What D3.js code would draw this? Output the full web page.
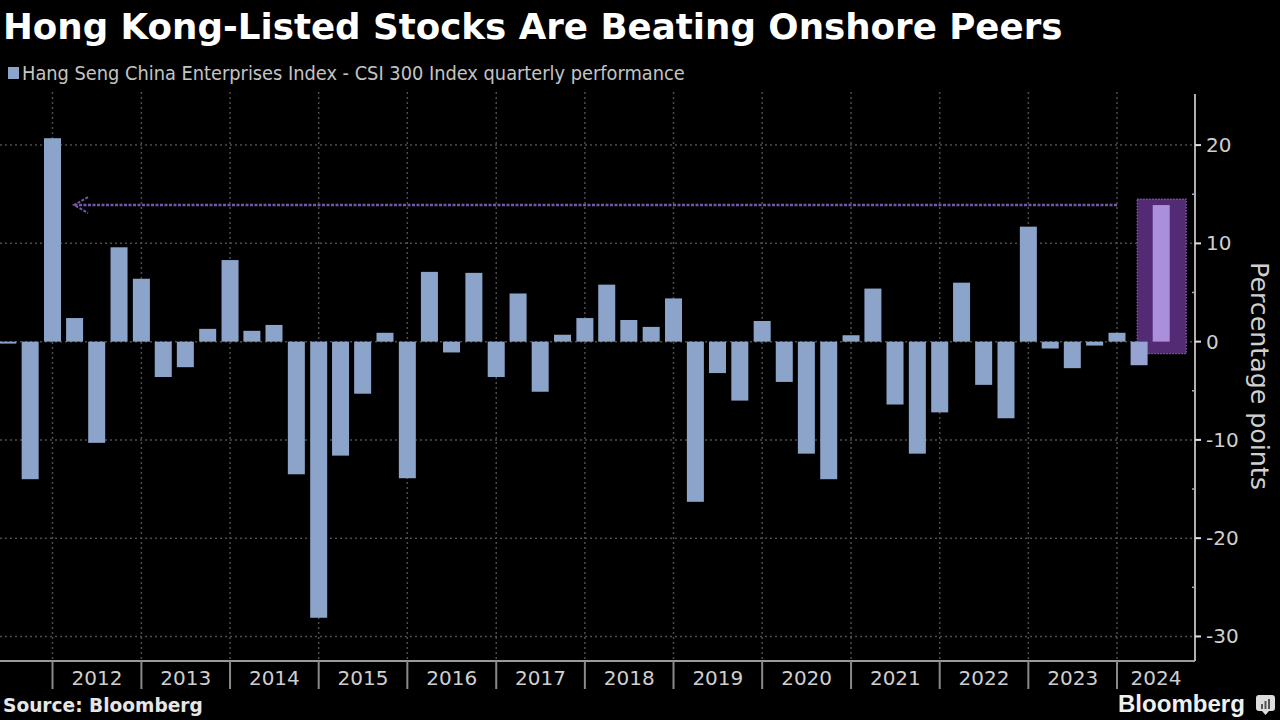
<!DOCTYPE html>
<html>
<head>
<meta charset="utf-8">
<script src="https://cdn.jsdelivr.net/npm/d3@7"></script>
<style>
  html, body { margin: 0; padding: 0; background: #000; }
  svg { display: block; }
</style>
</head>
<body>
<svg id="chart" width="1280" height="720"></svg>
<script>
// ---------- DATA ----------
const quarters = [
  "2011Q3","2011Q4",
  "2012Q1","2012Q2","2012Q3","2012Q4",
  "2013Q1","2013Q2","2013Q3","2013Q4",
  "2014Q1","2014Q2","2014Q3","2014Q4",
  "2015Q1","2015Q2","2015Q3","2015Q4",
  "2016Q1","2016Q2","2016Q3","2016Q4",
  "2017Q1","2017Q2","2017Q3","2017Q4",
  "2018Q1","2018Q2","2018Q3","2018Q4",
  "2019Q1","2019Q2","2019Q3","2019Q4",
  "2020Q1","2020Q2","2020Q3","2020Q4",
  "2021Q1","2021Q2","2021Q3","2021Q4",
  "2022Q1","2022Q2","2022Q3","2022Q4",
  "2023Q1","2023Q2","2023Q3","2023Q4",
  "2024Q1","2024Q2","2024Q3"
];
const spread = [
  -0.2, -14.0,
  20.7, 2.4, -10.3, 9.6,
  6.4, -3.6, -2.6, 1.3,
  8.3, 1.1, 1.7, -13.5,
  -28.1, -11.6, -5.3, 0.9,
  -13.9, 7.1, -1.1, 7.0,
  -3.6, 4.9, -5.1, 0.7,
  2.4, 5.8, 2.2, 1.5,
  4.4, -16.3, -3.2, -6.0,
  2.1, -4.1, -11.4, -14.0,
  0.65, 5.4, -6.4, -11.4,
  -7.2, 6.0, -4.4, -7.8,
  11.7, -0.7, -2.7, -0.4,
  0.9, -2.4, 13.9
];
const years = [2012,2013,2014,2015,2016,2017,2018,2019,2020,2021,2022,2023,2024];
const yTicks = [20, 10, 0, -10, -20, -30];
const yMinorTicks = [15, 5, -5, -15, -25];
const highlightQuarter = "2024Q3";
const arrowTargetQuarter = "2012Q1";

const titleText = "Hong Kong-Listed Stocks Are Beating Onshore Peers";
const legendText = "Hang Seng China Enterprises Index - CSI 300 Index quarterly performance";
const yTitleText = "Percentage points";
const sourceText = "Source: Bloomberg";
const brandText = "Bloomberg";

// ---------- SETUP ----------
const svg = d3.select("#chart");
const qDate = q => new Date(+q.slice(0,4), (+q.slice(5) - 1) * 3, 1);
const data = quarters.map((q, i) => ({ q, date: qDate(q), v: spread[i] }));

const plotLeft = 0, plotRight = 1195, plotTop = 94, plotBottom = 661;
const x = d3.scaleTime()
  .domain([new Date(2012,0,1), new Date(2024,0,1)])
  .range([52.5, 1117]);
const y = d3.scaleLinear().domain([-32.5, 25.2]).range([plotBottom, plotTop]);
const barW = 17;

const barColor = "#8ca4ca";
const hiBarColor = "#a98fdc";
const purple = "#7656a8";
const gridColor = "#4d4d4d";

function fitWidth(sel, target) {
  const w = sel.node().getComputedTextLength();
  const fs = parseFloat(sel.attr("font-size"));
  sel.attr("font-size", fs * target / w);
}

// ---------- TITLE / LEGEND ----------
const title = svg.append("text")
  .attr("x", 3).attr("y", 39)
  .attr("font-family", "DejaVu Sans, sans-serif")
  .attr("font-weight", "bold")
  .attr("font-size", 30)
  .attr("fill", "#fff")
  .text(titleText);
fitWidth(title, 1060);

svg.append("rect")
  .attr("x", 8).attr("y", 67).attr("width", 11).attr("height", 12)
  .attr("fill", barColor);
const leg = svg.append("text")
  .attr("font-family", "DejaVu Sans Condensed, DejaVu Sans, sans-serif")
  .attr("font-stretch", "condensed")
  .attr("font-size", 19)
  .attr("fill", "#c4c4c4")
  .text(legendText);
{
  const w = leg.node().getComputedTextLength();
  leg.attr("transform", `translate(22,80) scale(${663 / w},1)`);
}

// ---------- GRID ----------
const g = svg.append("g");
g.selectAll(".hgrid").data(yTicks).join("line")
  .attr("x1", plotLeft).attr("x2", plotRight)
  .attr("y1", d => y(d)).attr("y2", d => y(d))
  .attr("stroke", gridColor).attr("stroke-width", 1.5)
  .attr("stroke-dasharray", "2,3");
g.selectAll(".vgrid").data(years).join("line")
  .attr("x1", d => x(new Date(d,0,1))).attr("x2", d => x(new Date(d,0,1)))
  .attr("y1", 92).attr("y2", plotBottom)
  .attr("stroke", gridColor).attr("stroke-width", 1.5)
  .attr("stroke-dasharray", "2,3");

// ---------- HIGHLIGHT BOX ----------
const hi = data.find(d => d.q === highlightQuarter);
const hx = x(hi.date);
svg.append("rect")
  .attr("x", hx - 24).attr("y", y(hi.v) - 6)
  .attr("width", 49).attr("height", y(0) + 12 - (y(hi.v) - 6))
  .attr("fill", "#522b74")
  .attr("stroke", "#8a5fbf").attr("stroke-width", 1.2)
  .attr("stroke-dasharray", "1.5,1.5");

// ---------- BARS ----------
svg.append("g").selectAll("rect").data(data).join("rect")
  .attr("x", d => x(d.date) - barW / 2)
  .attr("width", barW)
  .attr("y", d => y(Math.max(0, d.v)))
  .attr("height", d => Math.max(1.5, Math.abs(y(d.v) - y(0))))
  .attr("fill", d => d.q === highlightQuarter ? hiBarColor : (d.q === "2024Q2" ? "#97a3d2" : barColor));

// ---------- ARROW ----------
const tgt = data.find(d => d.q === arrowTargetQuarter);
const ay = y(hi.v);
const tipX = x(tgt.date) + barW / 2 + 13;
svg.append("line")
  .attr("x1", x(new Date(2024,0,1))).attr("x2", tipX + 1)
  .attr("y1", ay).attr("y2", ay)
  .attr("stroke", purple).attr("stroke-width", 2.5)
  .attr("stroke-dasharray", "3,1.5");
svg.append("path")
  .attr("d", `M${tipX + 14},${ay - 8} L${tipX},${ay} L${tipX + 14},${ay + 8}`)
  .attr("fill", "none").attr("stroke", purple).attr("stroke-width", 2)
  .attr("stroke-dasharray", "3,1.5");

// ---------- AXES ----------
svg.append("line")
  .attr("x1", plotLeft).attr("x2", plotRight)
  .attr("y1", plotBottom).attr("y2", plotBottom)
  .attr("stroke", "#9a9a9a").attr("stroke-width", 2);
const xa = svg.append("g");
xa.selectAll("line").data(years).join("line")
  .attr("x1", d => x(new Date(d,0,1))).attr("x2", d => x(new Date(d,0,1)))
  .attr("y1", plotBottom).attr("y2", 689)
  .attr("stroke", "#8a8a8a").attr("stroke-width", 2);
xa.selectAll("text").data(years).join("text")
  .attr("x", d => {
    const a = x(new Date(d,0,1));
    const b = Math.min(plotRight, x(new Date(d + 1,0,1)));
    return (a + b) / 2;
  })
  .attr("y", 685)
  .attr("text-anchor", "middle")
  .attr("font-family", "DejaVu Sans, sans-serif")
  .attr("font-size", 20)
  .attr("fill", "#cfcfcf")
  .text(d => d);

svg.append("line")
  .attr("x1", plotRight).attr("x2", plotRight)
  .attr("y1", plotTop).attr("y2", plotBottom)
  .attr("stroke", "#b0b0b0").attr("stroke-width", 2);
const ya = svg.append("g");
ya.selectAll(".maj").data(yTicks).join("line")
  .attr("x1", plotRight).attr("x2", plotRight + 6)
  .attr("y1", d => y(d)).attr("y2", d => y(d))
  .attr("stroke", "#e0e0e0").attr("stroke-width", 2);
ya.selectAll(".min").data(yMinorTicks).join("line")
  .attr("class", "min")
  .attr("x1", plotRight - 3).attr("x2", plotRight)
  .attr("y1", d => y(d)).attr("y2", d => y(d))
  .attr("stroke", "#aaa").attr("stroke-width", 1.5);
ya.selectAll("text").data(yTicks).join("text")
  .attr("x", 1206)
  .attr("y", d => y(d) + 7)
  .attr("font-family", "DejaVu Sans, sans-serif")
  .attr("font-size", 20)
  .attr("fill", "#cfcfcf")
  .text(d => d < 0 ? "-" + Math.abs(d) : d);

const yt = svg.append("text")
  .attr("transform", `translate(1251, 376) rotate(90)`)
  .attr("text-anchor", "middle")
  .attr("font-family", "DejaVu Sans, sans-serif")
  .attr("font-size", 25)
  .attr("fill", "#cfcfcf")
  .text(yTitleText);
fitWidth(yt, 228);

// ---------- FOOTER ----------
const src = svg.append("text")
  .attr("x", 3).attr("y", 712)
  .attr("font-family", "DejaVu Sans, sans-serif")
  .attr("font-weight", "bold")
  .attr("font-size", 18)
  .attr("fill", "#e6e6e6")
  .text(sourceText);
fitWidth(src, 200);

const brand = svg.append("text")
  .attr("x", 1118).attr("y", 712)
  .attr("font-family", "Liberation Sans, Arial, sans-serif")
  .attr("font-weight", "bold")
  .attr("font-size", 24)
  .attr("fill", "#f0f0f0")
  .text(brandText);
fitWidth(brand, 127);

const icon = svg.append("g").attr("transform", "translate(1256, 695)");
icon.append("rect").attr("x", 0).attr("y", 0).attr("width", 19).attr("height", 16).attr("rx", 3).attr("fill", "#dcdcdc");
icon.append("path").attr("d", "M6,16 L9.5,20 L13,16 Z").attr("fill", "#dcdcdc");
[[5,9,2,5],[8.5,6,2,8],[12,4,2,10]].forEach(b =>
  icon.append("rect").attr("x", b[0]).attr("y", b[1]).attr("width", b[2]).attr("height", b[3]).attr("fill", "#555"));
</script>
</body>
</html>
